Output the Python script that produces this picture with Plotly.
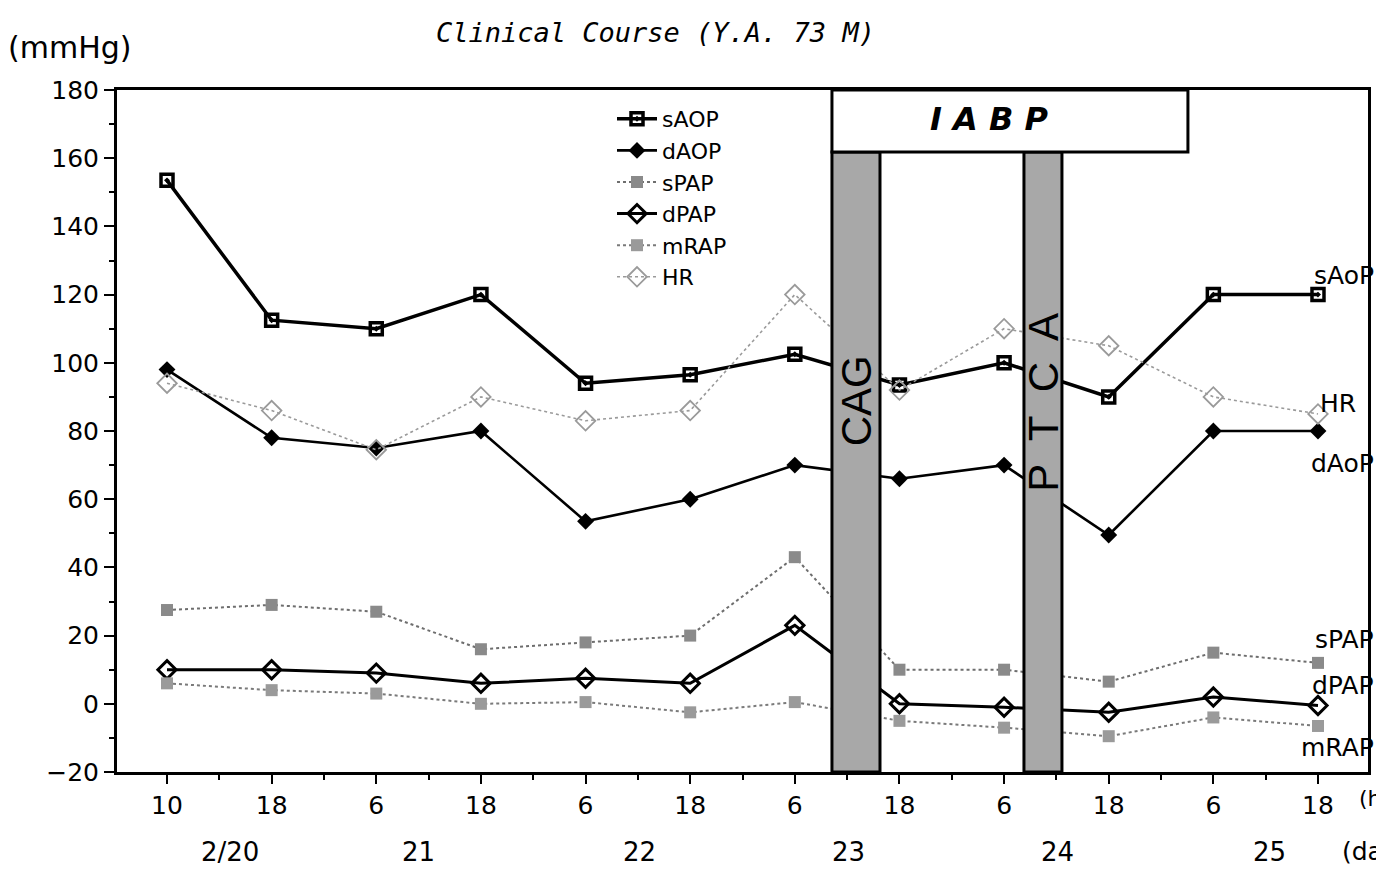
import plotly.graph_objects as go

# ---- data ----
hour_labels = ["10", "18", "6", "18", "6", "18", "6", "18", "6", "18", "6", "18"]
x_idx = list(range(len(hour_labels)))
day_labels = ["2/20", "21", "22", "23", "24", "25"]
day_pos = [0.6, 2.4, 4.52, 6.51, 8.51, 10.54]

sAOP = [153.5, 112.5, 110, 120, 94, 96.5, 102.5, 93.5, 100, 90, 120, 120]
dAOP = [98, 78, 75, 80, 53.5, 60, 70, 66, 70, 49.5, 80, 80]
sPAP = [27.5, 29, 27, 16, 18, 20, 43, 10, 10, 6.5, 15, 12]
dPAP = [10, 10, 9, 6, 7.5, 6, 23, 0, -1, -2.5, 2, -0.5]
mRAP = [6, 4, 3, 0, 0.5, -2.5, 0.5, -5, -7, -9.5, -4, -6.5]
HR = [94, 86, 74.5, 90, 83, 86, 120, 92, 110, 105, 90, 85]

series = [
    ("sAOP", sAOP, dict(color="black", width=3.5, dash="solid"),
     dict(symbol="square-open-dot", size=12, color="black", line=dict(width=3.5, color="black"))),
    ("dAOP", dAOP, dict(color="black", width=2.6, dash="solid"),
     dict(symbol="diamond", size=13, color="black")),
    ("sPAP", sPAP, dict(color="#6e6e6e", width=2, dash="dot"),
     dict(symbol="square", size=12, color="#8a8a8a")),
    ("dPAP", dPAP, dict(color="black", width=3, dash="solid"),
     dict(symbol="diamond-open", size=14, color="black", line=dict(width=3, color="black"))),
    ("mRAP", mRAP, dict(color="#7a7a7a", width=2, dash="dot"),
     dict(symbol="square", size=12, color="#9a9a9a")),
    ("HR", HR, dict(color="#9a9a9a", width=1.6, dash="dot"),
     dict(symbol="diamond-open", size=15, color="#9a9a9a", line=dict(width=1.8, color="#9a9a9a"))),
]

end_labels = [("sAoP", 125.5), ("dAoP", 70.5), ("sPAP", 18.8), ("dPAP", 5.3), ("mRAP", -12.9)]
hr_label = ("HR", 88)

FONT = "DejaVu Sans"

# page offset (browser body margin) and layout in figure pixels
OFF = 8
W, H = 1384 - OFF, 869 - OFF
PL, PR, PT, PB = 117, 1368, 90, 772          # plot area in page pixels
L, T = PL - OFF, PT - OFF
pw, ph = PR - PL, PB - PT
R, B = W - L - pw, H - T - ph


def px(xp):
    return (xp - PL) / pw


def py(yp):
    return (PB - yp) / ph


fig = go.Figure()
for name, vals, line, marker in series:
    fig.add_trace(go.Scatter(x=x_idx, y=vals, mode="lines+markers", name=name,
                             line=line, marker=marker))

# procedure bars and IABP box
fig.add_shape(type="rect", xref="x", yref="y", x0=6.355, x1=6.814, y0=-20, y1=161.8,
              fillcolor="#a8a8a8", line=dict(color="black", width=3), layer="above")
fig.add_shape(type="rect", xref="x", yref="y", x0=8.19, x1=8.553, y0=-20, y1=161.8,
              fillcolor="#a8a8a8", line=dict(color="black", width=3), layer="above")
fig.add_shape(type="rect", xref="x", yref="y", x0=6.355, x1=9.757, y0=161.8, y1=180,
              fillcolor="white", line=dict(color="black", width=3), layer="above")

ann = [
    dict(x=6.584, y=89, xref="x", yref="y", text="CAG", textangle=-90, showarrow=False,
         font=dict(family="Liberation Sans", size=42, color="black")),
    dict(x=8.37, y=88.5, xref="x", yref="y", text="P&nbsp; T&nbsp; C&nbsp; A", textangle=-90,
         showarrow=False, font=dict(family="Liberation Sans", size=42, color="black")),
    dict(x=7.86, y=171.5, xref="x", yref="y", text="<b><i>I A B P</i></b>", showarrow=False,
         font=dict(family=FONT, size=32, color="black")),
    dict(x=px(655), y=py(32), xref="paper", yref="paper",
         text="<i>Clinical Course (Y.A. 73 M)</i>", showarrow=False,
         font=dict(family="DejaVu Sans Mono", size=27, color="black")),
    dict(x=px(6), y=py(47), xref="paper", yref="paper", text="(mmHg)", showarrow=False,
         xanchor="left", font=dict(family=FONT, size=30, color="black")),
    dict(x=px(1357), y=py(798), xref="paper", yref="paper", text="(hours)", showarrow=False,
         xanchor="left", font=dict(family=FONT, size=22, color="black")),
    dict(x=px(1340), y=py(852), xref="paper", yref="paper", text="(days)", showarrow=False,
         xanchor="left", font=dict(family=FONT, size=25, color="black")),
    dict(x=px(1318), y=hr_label[1], xref="paper", yref="y", text=hr_label[0], showarrow=False,
         xanchor="left", font=dict(family=FONT, size=25, color="black")),
]
for d, p in zip(day_labels, day_pos):
    ann.append(dict(x=p, y=py(852), xref="x", yref="paper", text=d, showarrow=False,
                    font=dict(family=FONT, size=26, color="black")))
for t, yv in end_labels:
    ann.append(dict(x=1.006, y=yv, xref="paper", yref="y", text=t, showarrow=False,
                    xanchor="right", font=dict(family=FONT, size=25, color="black")))
for a in ann:
    a.setdefault("yanchor", "middle")
    a.setdefault("xanchor", "center")

fig.update_layout(
    width=W, height=H,
    margin=dict(l=L, r=R, t=T, b=B, pad=0),
    paper_bgcolor="white", plot_bgcolor="white",
    showlegend=True,
    legend=dict(x=px(612), y=py(98), xanchor="left", yanchor="top",
                bgcolor="rgba(0,0,0,0)", font=dict(family=FONT, size=22, color="black"),
                itemwidth=40, tracegroupgap=0),
    annotations=ann,
    font=dict(family=FONT, color="black"),
)
fig.update_xaxes(range=[-0.478, 11.478], tickmode="array", tickvals=x_idx, ticktext=hour_labels,
                 showgrid=False, zeroline=False, showline=True, linecolor="black", linewidth=3,
                 mirror=True, ticks="outside", ticklen=9, tickwidth=2, tickcolor="black",
                 tickfont=dict(family=FONT, size=25, color="black"),
                 minor=dict(tickmode="array", tickvals=[i + 0.5 for i in range(-1, 12)],
                            ticks="outside", ticklen=5, tickwidth=2, tickcolor="black"))
fig.update_yaxes(range=[-20, 180], tickmode="linear", tick0=-20, dtick=20,
                 showgrid=False, zeroline=False, showline=True, linecolor="black", linewidth=3,
                 mirror=True, ticks="outside", ticklen=10, tickwidth=2, tickcolor="black",
                 tickfont=dict(family=FONT, size=25, color="black"),
                 minor=dict(dtick=10, ticks="outside", ticklen=5, tickwidth=2, tickcolor="black"))

fig.write_html("out.html")
